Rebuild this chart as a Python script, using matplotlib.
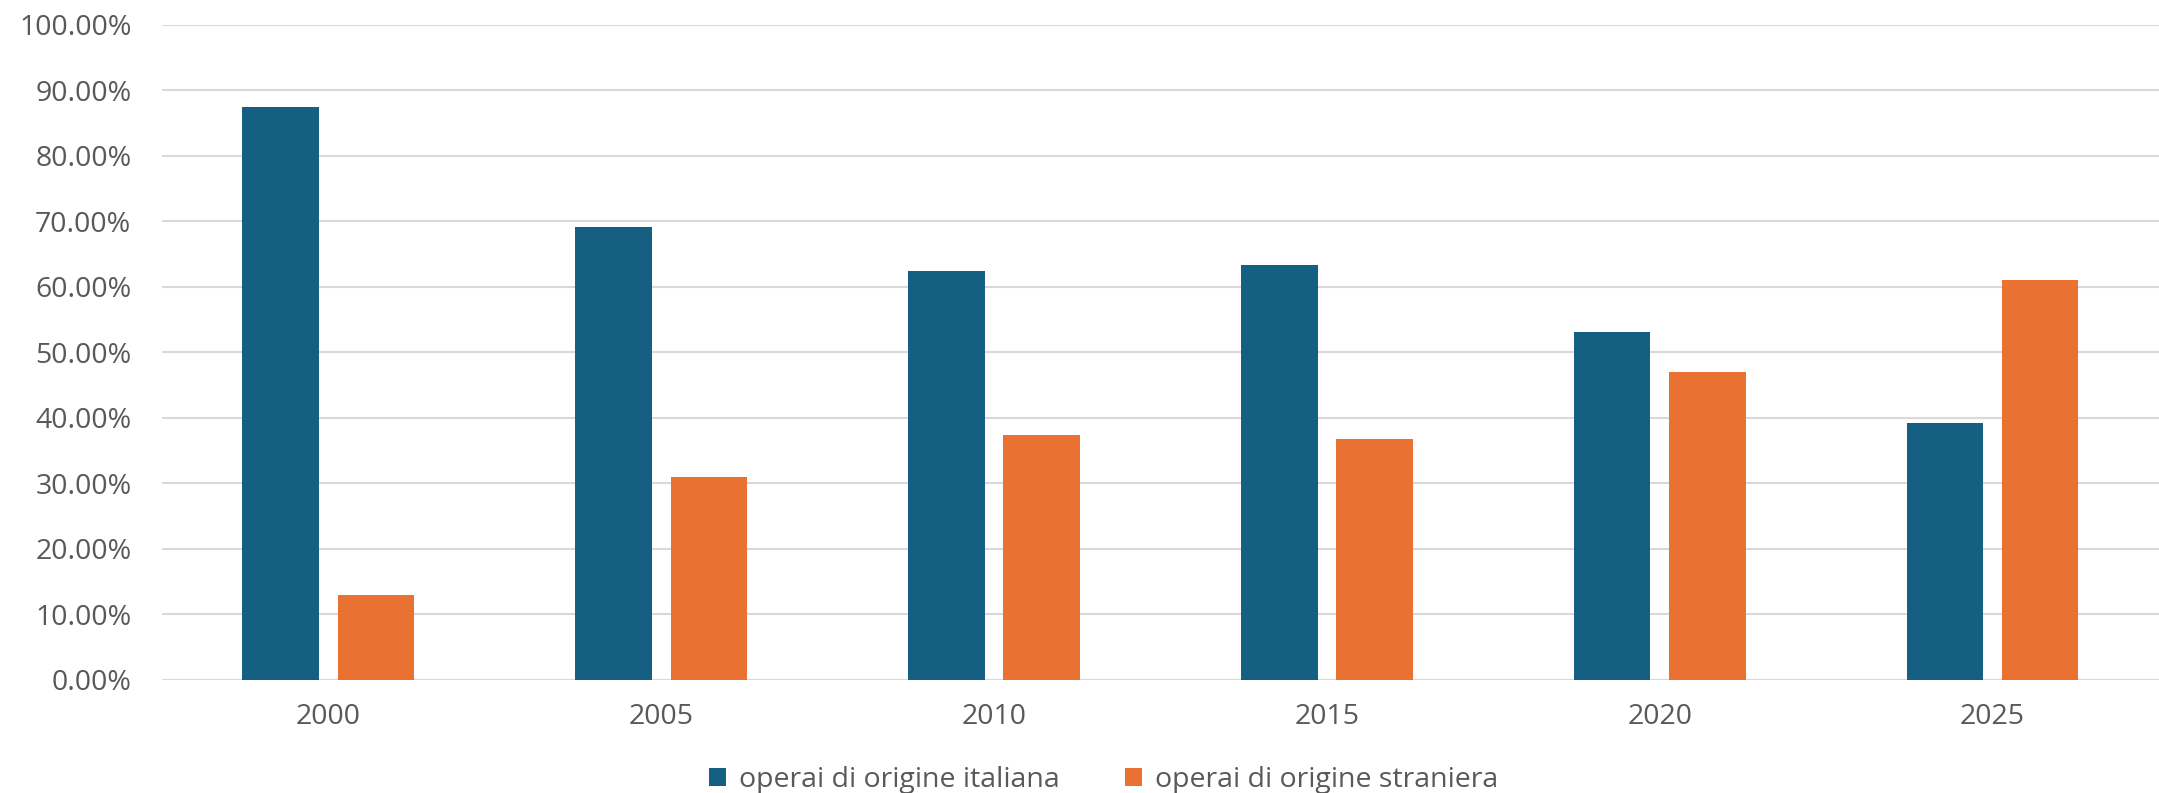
import numpy as np
import matplotlib
matplotlib.use("Agg")
import matplotlib.pyplot as plt
from matplotlib.ticker import FuncFormatter, MultipleLocator

years = ["2000", "2005", "2010", "2015", "2020", "2025"]
italiana = [87.4, 69.1, 62.4, 63.3, 53.0, 39.1]
straniera = [12.9, 30.9, 37.4, 36.7, 46.9, 61.0]
series_names = ["operai di origine italiana", "operai di origine straniera"]

BLUE = "#156082"
ORANGE = "#E97132"
TEXT = "#595959"
GRID = "#D9D9D9"

plt.rcParams["font.family"] = ["Open Sans", "DejaVu Sans"]

fig = plt.figure(figsize=(21.59, 7.93), dpi=100)
ax = fig.add_axes([0.075, 0.143, 0.925, 0.826])

x = np.arange(len(years))
width = 0.23
offset = 0.143
ax.bar(x - offset, italiana, width, color=BLUE, label=series_names[0], zorder=3)
ax.bar(x + offset, straniera, width, color=ORANGE, label=series_names[1], zorder=3)

ax.set_xlim(-0.5, len(years) - 0.5)
ax.set_ylim(0, 100)
ax.yaxis.set_major_locator(MultipleLocator(10))
ax.yaxis.set_major_formatter(FuncFormatter(lambda v, _: f"{v:.2f}%"))
ax.set_xticks(x)
ax.set_xticklabels(years)

ax.grid(axis="y", color=GRID, linewidth=1.5, zorder=0)
for s in ax.spines.values():
    s.set_visible(False)
ax.tick_params(axis="both", length=0, labelsize=20.5, colors=TEXT)
ax.tick_params(axis="y", pad=22)
ax.tick_params(axis="x", pad=17)

fig.legend(loc="center", bbox_to_anchor=(0.511, 0.016), ncol=2, frameon=False,
           fontsize=20.5, labelcolor=TEXT, handlelength=0.6, handleheight=0.6,
           handletextpad=0.45, columnspacing=2.3)

fig.savefig("out.png", dpi=100)
